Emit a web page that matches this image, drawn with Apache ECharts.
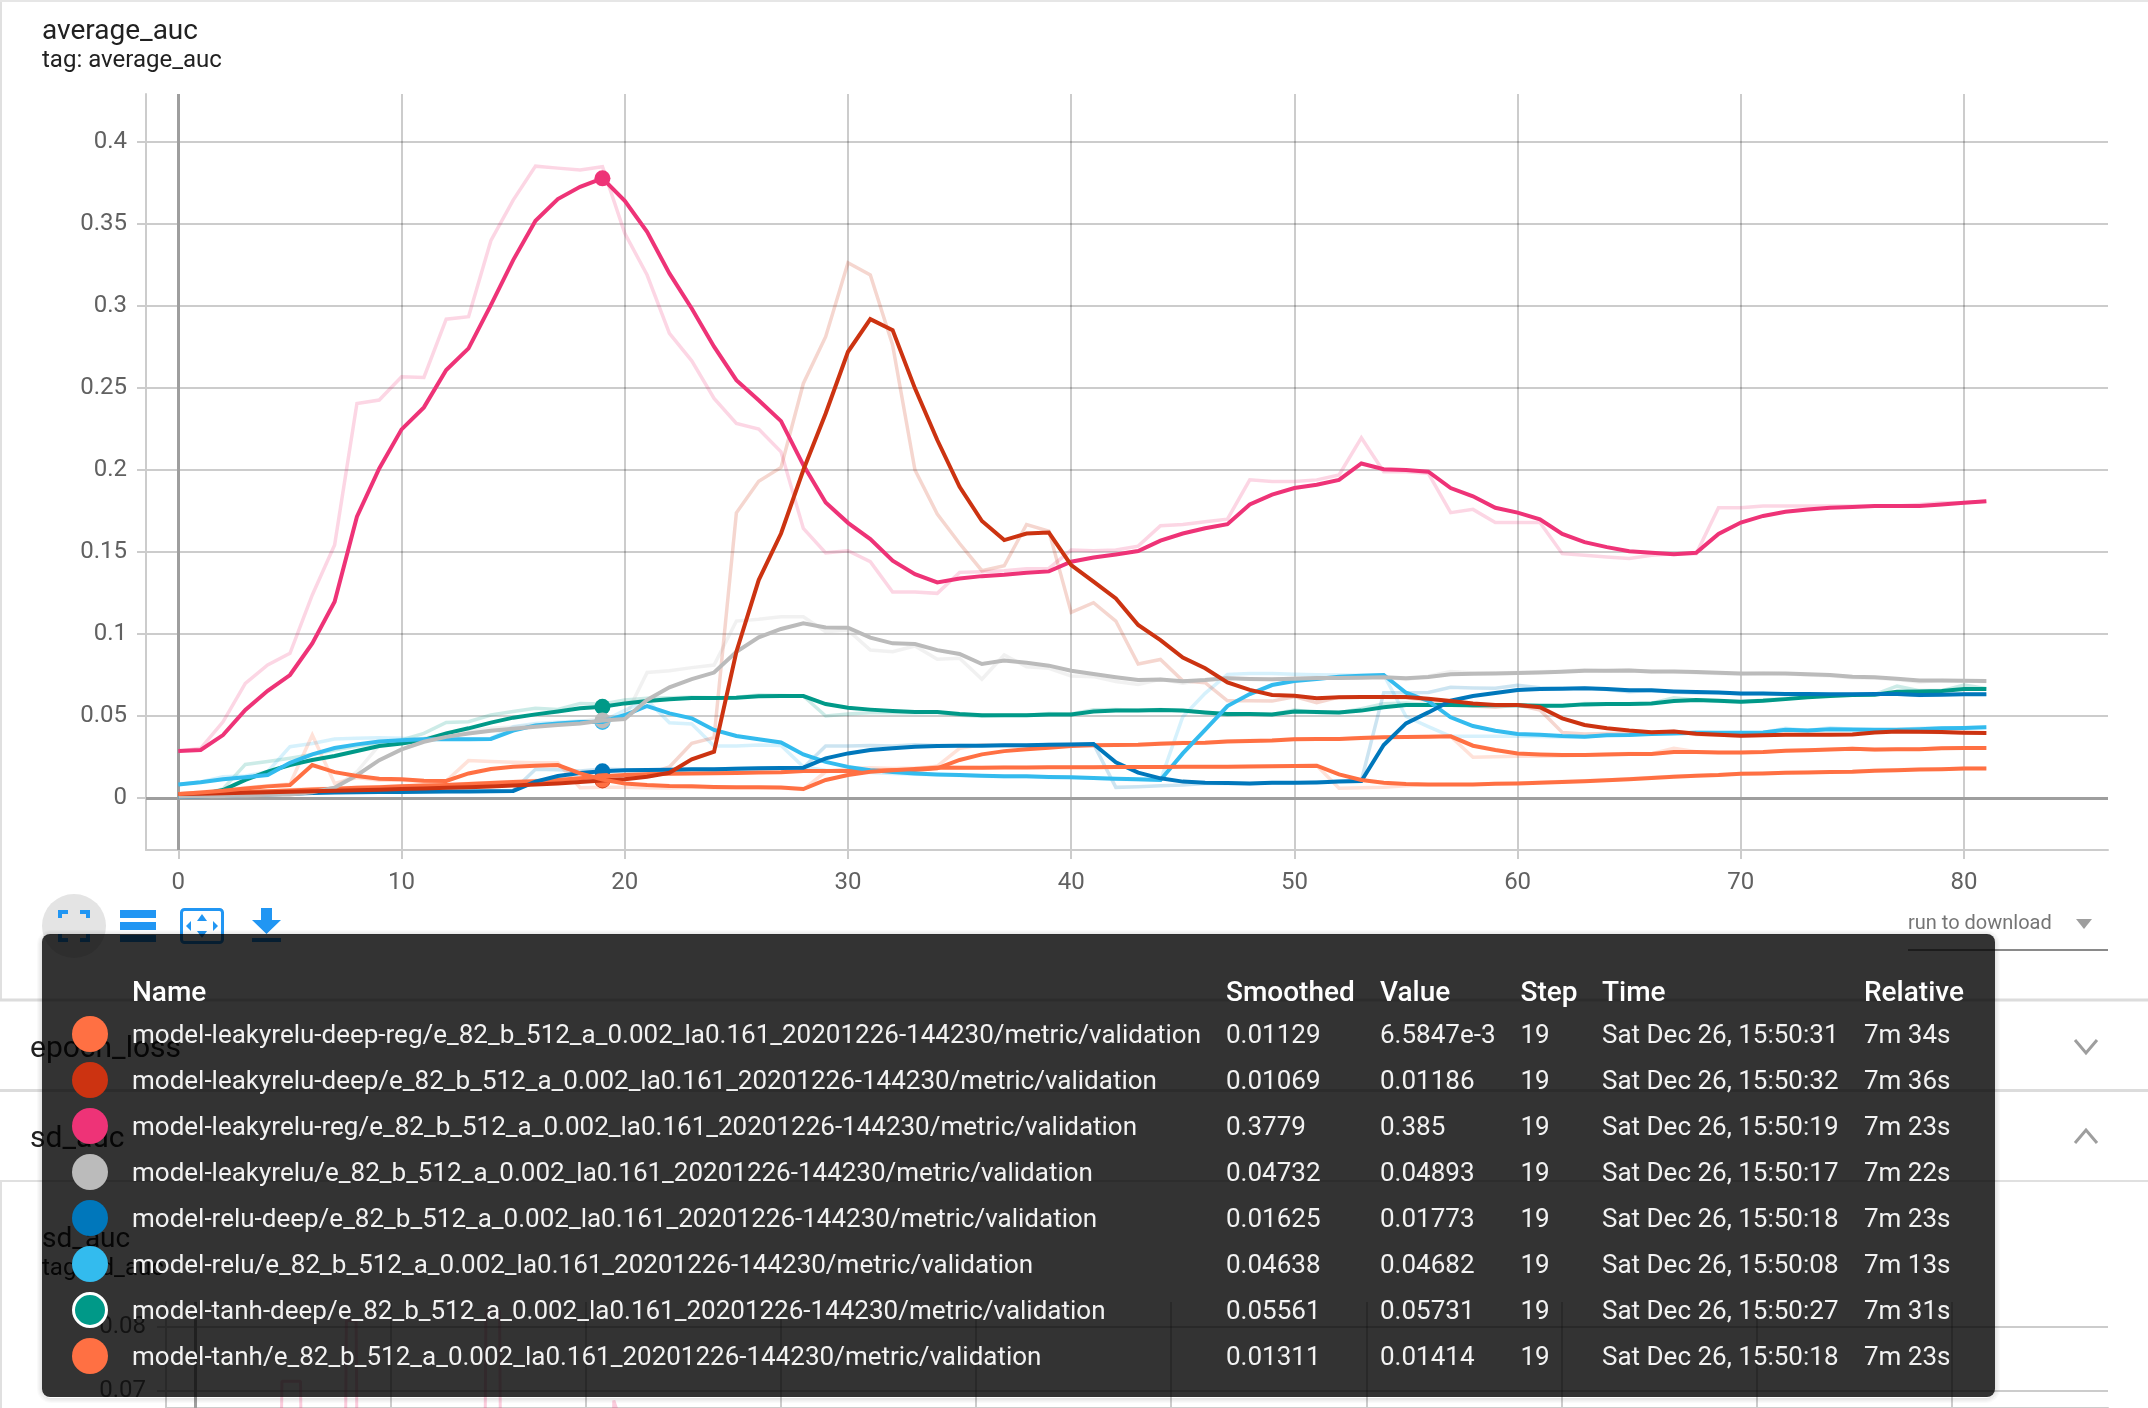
<!DOCTYPE html>
<html><head><meta charset="utf-8">
<style>html,body{margin:0;padding:0;background:#fff}#c{width:2148px;height:1408px}</style>
<script src="https://cdn.jsdelivr.net/npm/echarts@6/dist/echarts.min.js"></script></head>
<body><div id="c"></div>
<script>
const xTicks=[0,10,20,30,40,50,60,70,80];
const yTicks=[0,0.05,0.1,0.15,0.2,0.25,0.3,0.35,0.4];
const sdXTicks=[0,10,20,30,40,50,60,70,80,90];
const sdYTicks=[0.07,0.08];
const hoverStep=19;

const pinkSmooth=[.0286,.0293,.0384,.0537,.0654,.075,.0943,.1197,.1715,.201,
.2248,.2382,.261,.2742,.3006,.328,.352,.3652,.3727,.3779,
.3642,.3453,.3199,.2985,.2752,.2548,.2426,.2298,.203,.1802,
.1678,.1579,.1447,.1365,.1315,.1339,.1353,.1361,.1374,.1382,
.1441,.1467,.1485,.1506,.1569,.1613,.1645,.167,.179,.185,
.189,.191,.194,.204,.2005,.2,.199,.189,.184,.177,
.174,.17,.161,.156,.153,.1505,.1495,.1487,.1495,.161,
.168,.172,.1745,.176,.177,.1775,.178,.178,.178,.179,.18,.181];
const pinkRaw=[.0286,.0303,.0465,.0699,.0811,.0882,.1238,.1543,.2406,.2427,
.2569,.2565,.292,.2935,.3398,.3646,.3853,.3841,.3829,.385,
.3443,.3189,.2833,.2666,.2437,.2284,.225,.2111,.1644,.1495,
.1508,.1441,.1256,.1256,.1248,.1376,.138,.1386,.1398,.14,
.1512,.1508,.1512,.1536,.166,.1668,.1685,.17,.194,.193,
.193,.194,.197,.2197,.199,.199,.198,.174,.176,.168,
.168,.168,.149,.148,.147,.146,.148,.149,.149,.177,
.177,.178,.178,.178,.178,.178,.178,.178,.179,.18,.18,.181];
const redSmooth=[.0024,.0026,.0029,.0032,.0035,.0038,.0041,.0044,.0048,.0051,
.0055,.0058,.0062,.0066,.007,.0076,.0083,.0089,.0097,.0107,
.0114,.013,.0154,.0236,.0283,.0892,.1329,.1613,.2,.2345,
.2721,.292,.2853,.2498,.2183,.1898,.1689,.1573,.1613,.1619,
.142,.1319,.1217,.1055,.0963,.0857,.0791,.0705,.0659,.0628,
.0624,.0608,.0614,.0616,.0616,.0616,.0606,.0592,.0577,.0567,
.0567,.0553,.0486,.0445,.0425,.0411,.0401,.0406,.0392,.0386,
.038,.0382,.0386,.0386,.0386,.0388,.04,.0406,.0404,.0402,.0398,.0396];
const redRaw=[.0024,.0027,.003,.0033,.0036,.0039,.0042,.0046,.0049,.0052,
.0056,.0059,.0063,.0068,.0072,.0079,.0086,.0092,.0102,.01186,
.0119,.0145,.019,.0333,.0368,.1739,.1932,.2016,.2528,.2813,
.3264,.3189,.2762,.2,.1731,.1552,.1386,.1416,.1668,.1628,
.1132,.1191,.1079,.0817,.0845,.0715,.0703,.0593,.0593,.0591,
.0618,.0581,.0616,.0615,.0615,.0612,.0595,.0578,.0561,.0553,
.0567,.0537,.04,.039,.0394,.0395,.0395,.0408,.0388,.0384,
.0378,.0382,.0387,.0387,.0387,.039,.041,.041,.0403,.04,.0396,.0395];
const graySmooth=[.0008,.001,.0013,.0016,.002,.0022,.0035,.0063,.0139,.0231,
.0296,.0343,.0373,.0394,.041,.0423,.0435,.0445,.0455,.0473,
.0482,.0598,.0675,.0725,.0765,.0892,.098,.1031,.1065,.104,
.1039,.0978,.0943,.0939,.0902,.0878,.0817,.0839,.0825,.0807,
.0776,.0756,.0736,.0719,.0722,.0712,.0719,.073,.0726,.0724,
.0728,.0732,.0732,.0734,.0736,.073,.0738,.0754,.0758,.076,
.0762,.0766,.077,.0776,.0776,.0778,.0772,.0772,.0768,.0764,
.076,.076,.076,.0754,.075,.074,.0736,.0728,.0717,.0717,.0715,.0713];
const grayRaw=[.0008,.0011,.0014,.0017,.0021,.0024,.004,.0063,.016,.0322,
.0345,.0365,.039,.0406,.0425,.0433,.0445,.0455,.0465,.04893,
.049,.0766,.0776,.0795,.0811,.1079,.109,.1105,.1105,.1014,
.1024,.0902,.0892,.0927,.0846,.0852,.0724,.0872,.08,.0791,
.0744,.074,.071,.0693,.0724,.07,.0722,.0735,.0722,.0722,
.0732,.0735,.0731,.0736,.0738,.0723,.0742,.0772,.0762,.0762,
.0765,.077,.0773,.0782,.0775,.078,.0768,.0771,.0764,.076,
.0756,.0762,.0758,.075,.0746,.0733,.0732,.0722,.0708,.0717,.0713,.0711];
const blueSmooth=[.0006,.001,.0014,.0018,.0022,.0026,.003,.0033,.0035,.0036,
.0037,.0038,.0039,.004,.0042,.0043,.01,.0134,.0153,.01625,
.0169,.0171,.0172,.0175,.0175,.0179,.0181,.0183,.0185,.0242,
.0272,.0293,.0303,.0313,.0317,.0319,.0319,.0321,.0321,.0325,
.0327,.0329,.0218,.0155,.012,.01,.0093,.0091,.0089,.0093,
.0093,.0095,.01,.0104,.0323,.0455,.0522,.0593,.0622,.064,
.0658,.0665,.0667,.0669,.0665,.0657,.0657,.065,.0646,.0644,
.0638,.0638,.0634,.0634,.0632,.0632,.0634,.0634,.0628,.063,.0632,.0632];
const blueRaw=[.0006,.0011,.0015,.0019,.0023,.0027,.0031,.0034,.0036,.0037,
.0038,.0039,.004,.0041,.0043,.0045,.0175,.0172,.0165,.01773,
.0172,.0173,.0173,.0176,.0176,.0181,.0182,.0184,.0185,.0317,
.0317,.032,.0317,.0325,.032,.032,.032,.0322,.032,.0327,
.0328,.033,.0065,.0069,.0075,.0079,.0088,.009,.0087,.0093,
.0092,.0098,.0102,.0107,.0642,.0642,.0644,.0675,.0671,.0669,
.0687,.0673,.0669,.0671,.0662,.0648,.0656,.0645,.0641,.0644,
.0634,.0638,.0631,.0634,.063,.0633,.0635,.0634,.0625,.0632,.0634,.0632];
const skySmooth=[.0083,.0096,.0114,.0126,.014,.0215,.0266,.0305,.0327,.0344,
.0352,.0358,.0358,.0358,.036,.0411,.0443,.0455,.0463,.04638,
.0506,.0561,.0516,.0486,.0415,.0378,.0358,.0339,.0266,.022,
.019,.017,.0159,.015,.0144,.014,.0136,.0132,.0132,.0128,
.0126,.0122,.0118,.0114,.011,.0272,.0415,.0561,.0634,.0689,
.0713,.0726,.074,.0746,.075,.0642,.0592,.0492,.0439,.041,
.039,.0386,.0378,.0374,.0382,.0384,.039,.0394,.0398,.0398,
.0398,.04,.0416,.0412,.042,.0418,.0416,.0416,.042,.0425,.0427,.0431];
const skyRaw=[.0083,.0098,.013,.0134,.0161,.0313,.0333,.036,.0364,.0368,
.0365,.036,.0358,.036,.0362,.0435,.0455,.0462,.047,.04682,
.0535,.0597,.0459,.0451,.0317,.0317,.0323,.032,.019,.017,
.0165,.0155,.015,.0145,.0142,.0138,.0133,.013,.013,.0125,
.0125,.012,.0115,.0112,.0108,.0496,.0638,.0754,.076,.076,
.0755,.0752,.075,.0748,.0752,.0497,.0435,.0376,.0377,.0377,
.0376,.0375,.0372,.0372,.0385,.0385,.0393,.0396,.0402,.0398,
.0398,.04,.0425,.0412,.0428,.042,.0416,.0418,.0425,.0428,.0428,.0434];
const tealSmooth=[.0014,.002,.0049,.011,.0161,.0201,.0232,.0256,.0287,.0317,
.0333,.0354,.0394,.0425,.046,.049,.051,.0527,.0547,.05561,
.0577,.0591,.0602,.061,.061,.0612,.062,.0622,.0622,.0573,
.0551,.0539,.053,.0524,.0524,.0512,.0504,.0504,.0504,.051,
.051,.0528,.0534,.0534,.0537,.0533,.0522,.0512,.0512,.051,
.0527,.0524,.0522,.0533,.0553,.0567,.0567,.0567,.0565,.0565,
.0565,.0563,.0563,.0571,.0573,.0573,.0577,.0591,.0597,.0593,
.0587,.0593,.0603,.0614,.0622,.0628,.063,.0648,.065,.0652,.0665,.0665];
const tealRaw=[.0014,.002,.0055,.0205,.0222,.0242,.0265,.0293,.0317,.0337,
.0354,.0394,.0461,.0465,.0506,.0527,.0547,.054,.0577,.05731,
.0597,.0608,.0612,.0615,.0612,.0615,.0628,.0625,.0622,.05,
.0512,.052,.0522,.052,.0523,.0505,.0498,.0505,.0505,.0515,
.0513,.0538,.054,.0535,.054,.053,.052,.0505,.0512,.051,
.0537,.0522,.052,.0545,.0575,.058,.057,.0565,.0562,.0566,
.0565,.056,.0563,.0577,.0575,.0572,.0578,.0612,.0598,.059,
.0585,.0597,.0607,.0618,.0625,.063,.0632,.0682,.0655,.0655,.0689,.0668];
const deepRegSmooth=[.0024,.0034,.0044,.0058,.0071,.0079,.0201,.0158,.0134,.0118,
.0114,.0106,.0104,.015,.0177,.0191,.0197,.0201,.015,.01129,
.0089,.0079,.0073,.0071,.0067,.0066,.0066,.0064,.0055,.011,
.014,.016,.017,.0177,.0184,.0185,.0185,.0186,.0186,.0187,
.0188,.0188,.0189,.0189,.0189,.019,.019,.0191,.0192,.0193,
.0195,.0197,.0144,.011,.0093,.0085,.0083,.0083,.0083,.0087,
.0089,.0093,.0097,.0102,.0108,.0114,.0122,.013,.0136,.014,
.0148,.015,.0154,.0156,.0158,.016,.0166,.017,.0174,.0176,.018,.018];
const deepRegRaw=[.0024,.0037,.0048,.0062,.0075,.0085,.0384,.0089,.0125,.0108,
.0108,.01,.0104,.0228,.0222,.0218,.0215,.0215,.0063,.0065847,
.0065,.0062,.0061,.0065,.0062,.0062,.0063,.0061,.0052,.016,
.018,.0185,.018,.0183,.019,.0187,.0186,.0187,.0186,.0188,
.0188,.0189,.0189,.019,.019,.019,.0191,.0191,.0193,.0194,
.0196,.0198,.0059,.0063,.0065,.0075,.0081,.0082,.0083,.0088,
.009,.0096,.01,.0105,.011,.0117,.0125,.0132,.0138,.0142,
.015,.0151,.0156,.0157,.016,.0162,.0169,.0172,.0176,.0177,.0182,.0181];
const tanhSmooth=[.0018,.0024,.003,.0037,.0041,.0046,.0052,.0056,.0062,.0066,
.0071,.0076,.008,.0085,.0091,.0097,.0103,.011,.012,.01311,
.014,.0145,.0148,.015,.0151,.0153,.0155,.0157,.0165,.0165,
.0165,.0167,.0169,.0171,.0181,.0232,.0266,.0286,.0297,.0307,
.0317,.0321,.0323,.0325,.0331,.0335,.0337,.0344,.0348,.035,
.0358,.036,.036,.0366,.037,.0372,.0374,.0376,.0319,.0293,
.0272,.0266,.0262,.0262,.0266,.0268,.0268,.028,.028,.0278,
.0278,.028,.0288,.0292,.0296,.03,.0296,.0298,.0298,.0303,.0305,.0305];
const tanhRaw=[.0018,.0026,.0032,.004,.0044,.005,.0056,.006,.0066,.0069,
.0075,.0079,.0083,.0088,.0095,.01,.0107,.0114,.0126,.01414,
.0145,.0148,.015,.0151,.0152,.0155,.0157,.0159,.0167,.0165,
.0165,.0168,.017,.0172,.0195,.0303,.0325,.0318,.0318,.032,
.0325,.0323,.0325,.0327,.0335,.0338,.0338,.0347,.035,.0352,
.0362,.036,.036,.0369,.0372,.0373,.0375,.0375,.0248,.0252,
.0255,.0255,.0258,.0262,.0268,.0272,.027,.0303,.0282,.0277,
.0278,.0281,.029,.0293,.0298,.0302,.0292,.0299,.0298,.0305,.0306,.0305];

const sdSpikeX=[3,4.4,4.45,5.4,5.45,7.7,7.75,8.25,8.3,14.85,14.9,15.6,15.65,21.4,21.45,22.4];
const sdSpikeY=[.06,.06,.0715,.0715,.06,.06,.081,.081,.06,.06,.0825,.0825,.06,.06,.0685,.06];

const runNames=['model-leakyrelu-deep-reg/e_82_b_512_a_0.002_la0.161_20201226-144230/metric/validation',
'model-leakyrelu-deep/e_82_b_512_a_0.002_la0.161_20201226-144230/metric/validation',
'model-leakyrelu-reg/e_82_b_512_a_0.002_la0.161_20201226-144230/metric/validation',
'model-leakyrelu/e_82_b_512_a_0.002_la0.161_20201226-144230/metric/validation',
'model-relu-deep/e_82_b_512_a_0.002_la0.161_20201226-144230/metric/validation',
'model-relu/e_82_b_512_a_0.002_la0.161_20201226-144230/metric/validation',
'model-tanh-deep/e_82_b_512_a_0.002_la0.161_20201226-144230/metric/validation',
'model-tanh/e_82_b_512_a_0.002_la0.161_20201226-144230/metric/validation'];
const smoothedText=['0.01129','0.01069','0.3779','0.04732','0.01625','0.04638','0.05561','0.01311'];
const valueText=['6.5847e-3','0.01186','0.385','0.04893','0.01773','0.04682','0.05731','0.01414'];
const stepText=['19','19','19','19','19','19','19','19'];
const timeText=['Sat Dec 26, 15:50:31','Sat Dec 26, 15:50:32','Sat Dec 26, 15:50:19','Sat Dec 26, 15:50:17','Sat Dec 26, 15:50:18','Sat Dec 26, 15:50:08','Sat Dec 26, 15:50:27','Sat Dec 26, 15:50:18'];
const relativeText=['7m 34s','7m 36s','7m 23s','7m 22s','7m 23s','7m 13s','7m 31s','7m 23s'];
const headerText=['Name','Smoothed','Value','Step','Time','Relative'];
const colors=['#ff7043','#cc3311','#ee3377','#bbbbbb','#0077bb','#33bbee','#009988','#ff7043'];
const smoothArrays=[deepRegSmooth,redSmooth,pinkSmooth,graySmooth,blueSmooth,skySmooth,tealSmooth,tanhSmooth];
const rawArrays=[deepRegRaw,redRaw,pinkRaw,grayRaw,blueRaw,skyRaw,tealRaw,tanhRaw];

const FONT='Roboto';
const pts=a=>a.map((v,i)=>[i,v]);
const order=[7,6,5,4,3,2,1,0];
const series=[];
series.push({type:'line',name:'axes',xAxisIndex:0,yAxisIndex:0,data:[],silent:true,
  markLine:{silent:true,symbol:'none',z:1,animation:false,label:{show:false},
    lineStyle:{color:'#9e9e9e',width:3,type:'solid'},
    data:[{xAxis:0},{yAxis:0}]}});
series.push({type:'line',name:'sd_auc raw',xAxisIndex:1,yAxisIndex:1,silent:true,showSymbol:false,
  data:sdSpikeX.map((x,i)=>[x,sdSpikeY[i]]),lineStyle:{color:'#ee3377',opacity:.25,width:3},
  markLine:{silent:true,symbol:'none',z:1,animation:false,label:{show:false},
    lineStyle:{color:'#9e9e9e',width:3,type:'solid'},data:[{xAxis:0}]}});
order.forEach(i=>series.push({type:'line',name:runNames[i]+' raw',data:pts(rawArrays[i]),showSymbol:false,silent:true,animation:false,
  lineStyle:{color:colors[i],width:3.5,opacity:.2,join:'miter'},itemStyle:{color:colors[i]}}));
order.forEach(i=>series.push({type:'line',name:runNames[i],data:pts(smoothArrays[i]),showSymbol:false,silent:true,animation:false,
  lineStyle:{color:colors[i],width:4,join:'miter'},itemStyle:{color:colors[i]}}));
order.forEach(i=>series.push({type:'scatter',name:runNames[i]+' hover',data:[[hoverStep,smoothArrays[i][hoverStep]]],symbolSize:16,silent:true,animation:false,
  itemStyle:{color:colors[i],opacity:1}}));

const T=(x,y,text,size,color,opt={})=>({type:'text',z:opt.z||1,silent:true,x,y,
  style:{text,fill:color,font:(opt.weight||400)+' '+size+'px '+FONT,textVerticalAlign:'middle',textBaseline:'middle',textAlign:opt.align||'left'}});
const L=(x1,y1,x2,y2,c,w,z)=>({type:'line',z:z||1,silent:true,shape:{x1,y1,x2,y2},style:{stroke:c,lineWidth:w}});
const BLUE='#2196f3';
const g=[];
g.push(L(1,0,1,1000,'#e0e0e0',2));
g.push(L(1,1181,1,1408,'#e0e0e0',2));
g.push({type:'rect',z:1,silent:true,shape:{x:0,y:0,width:2148,height:2},style:{fill:'#e6e6e6'}});
g.push(L(0,1000,2148,1000,'#dcdcdc',3));
g.push(L(0,1090.5,2148,1090.5,'#dcdcdc',3));
g.push(L(0,1181,2148,1181,'#e0e0e0',2));
g.push(T(42,32,'average_auc',28,'#212121'));
g.push(T(42,61,'tag: average_auc',24,'#212121'));
g.push(T(30,1049,'epoch_loss',30,'#212121'));
g.push(T(30,1139,'sd_auc',30,'#212121'));
g.push(T(42,1240,'sd_auc',28,'#212121'));
g.push(T(42,1269,'tag: sd_auc',24,'#212121'));
g.push({type:'polyline',z:1,silent:true,shape:{points:[[2075,1040],[2086,1053],[2097,1040]]},style:{stroke:'#9e9e9e',lineWidth:3,fill:null}});
g.push({type:'polyline',z:1,silent:true,shape:{points:[[2075,1143],[2086,1130],[2097,1143]]},style:{stroke:'#9e9e9e',lineWidth:3,fill:null}});
g.push({type:'circle',z:1,silent:true,shape:{cx:74,cy:926,r:32},style:{fill:'#e4e4e4'}});
[[60,918,60,912,68,912],[80,912,88,912,88,918],[60,934,60,940,68,940],[80,940,88,940,88,934]].forEach(p=>
  g.push({type:'polyline',z:2,silent:true,shape:{points:[[p[0],p[1]],[p[2],p[3]],[p[4],p[5]]]},style:{stroke:BLUE,lineWidth:4,fill:null}}));
[[910,8],[922,8],[935,7]].forEach(b=>g.push({type:'rect',z:2,silent:true,shape:{x:120,y:b[0],width:36,height:b[1]},style:{fill:BLUE}}));
g.push({type:'rect',z:2,silent:true,shape:{x:181.5,y:909.5,width:41,height:33,r:3},style:{stroke:BLUE,lineWidth:3,fill:null}});
[[[202,914],[197,921],[207,921]],[[202,938],[197,931],[207,931]],[[186,926],[191,921],[191,931]],[[218,926],[213,921],[213,931]]].forEach(p=>
  g.push({type:'polygon',z:2,silent:true,shape:{points:p},style:{fill:BLUE}}));
g.push({type:'polygon',z:2,silent:true,shape:{points:[[261,908],[272,908],[272,920],[281,920],[266.5,934],[252,920],[261,920]]},style:{fill:BLUE}});
g.push({type:'rect',z:2,silent:true,shape:{x:252,y:938,width:29,height:4},style:{fill:BLUE}});
g.push(T(1908,924,'run to download',20,'#757575'));
g.push({type:'polygon',z:2,silent:true,shape:{points:[[2076,919],[2092,919],[2084,929]]},style:{fill:'#9e9e9e'}});
g.push(L(1908,950,2108,950,'#8a8a8a',2));
[1,2,3,4,5].forEach(d=>g.push({type:'rect',z:99,silent:true,
  shape:{x:42-d+.5,y:934-d+.5+1,width:1953+2*d-1,height:463+2*d-1,r:8+d},style:{fill:null,stroke:'rgba(0,0,0,'+(0.12-d*0.02)+')',lineWidth:1}}));
g.push({type:'rect',z:100,silent:true,shape:{x:42,y:934,width:1953,height:463,r:8},style:{fill:'rgba(0,0,0,0.8)'}});
const cols=[132,1226,1380,1520.5,1602,1864];
headerText.forEach((h,i)=>g.push(T(cols[i],994,h,28,'#ffffff',{z:101,weight:500})));
const rowY=[1036,1082,1128,1174,1220,1266,1312,1358];
const TXT='#f2f2f2';
runNames.forEach((n,i)=>{
  const y=rowY[i];
  g.push({type:'circle',z:101,silent:true,shape:{cx:90,cy:y-2,r:i===6?16.5:18},
    style:{fill:colors[i],stroke:i===6?'#ffffff':null,lineWidth:i===6?3:0}});
  g.push(T(cols[0],y,n,26,TXT,{z:101}));
  g.push(T(cols[1],y,smoothedText[i],26,TXT,{z:101}));
  g.push(T(cols[2],y,valueText[i],26,TXT,{z:101}));
  g.push(T(cols[3],y,stepText[i],26,TXT,{z:101}));
  g.push(T(cols[4],y,timeText[i],26,TXT,{z:101}));
  g.push(T(cols[5],y,relativeText[i],26,TXT,{z:101}));
});

const chart=echarts.init(document.getElementById('c'),null,{renderer:'canvas'});
const axisCommon=(vals,margin,extra)=>Object.assign({
  type:'value',
  axisLine:{show:true,onZero:false,lineStyle:{color:'#cccccc',width:2}},
  axisTick:{show:true,customValues:vals,length:9,lineStyle:{color:'#cccccc',width:2}},
  axisLabel:{customValues:vals,fontFamily:FONT,fontSize:24,color:'#616161',fontWeight:400,margin,hideOverlap:false,
    showMinLabel:true,showMaxLabel:true,formatter:v=>String(v)},
  splitLine:{show:true,lineStyle:{color:'rgba(0,0,0,0.2)',width:2}},
  minorTick:{show:false}
},extra);
chart.setOption({
  animation:false,
  backgroundColor:'#ffffff',
  grid:[{left:146,top:94,width:1962,height:756,containLabel:false},
        {left:166,top:1302,width:1942,height:106,containLabel:false}],
  xAxis:[axisCommon(xTicks,21,{gridIndex:0,min:-1.45,max:86.45}),
         axisCommon(sdXTicks,21,{gridIndex:1,min:-1.49,max:98,axisLabel:{show:false},axisTick:{show:false,customValues:sdXTicks}})],
  yAxis:[axisCommon(yTicks,19,{gridIndex:0,min:-0.0317,max:0.4293}),
         axisCommon(sdYTicks,20,{gridIndex:1,min:0.06734,max:0.0839})],
  series,
  graphic:{elements:g}
});
</script></body></html>
